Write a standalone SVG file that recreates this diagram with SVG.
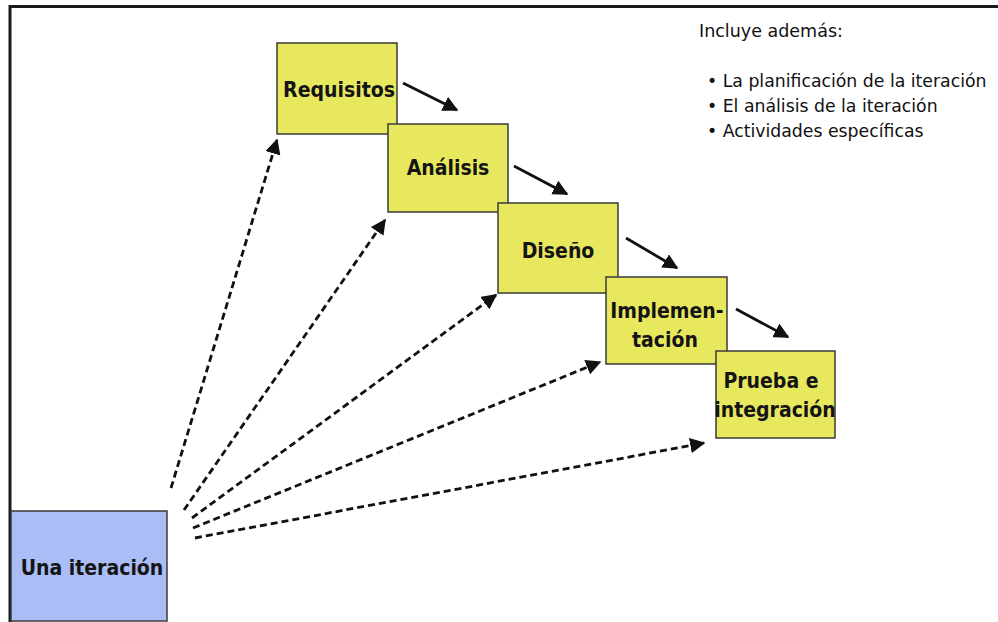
<svg xmlns="http://www.w3.org/2000/svg" width="998" height="622" viewBox="0 0 998 622">
<style>
.frame{stroke:#1a1a1a;stroke-width:3;fill:none}
.box{fill:#e8e85f;stroke:#3a3a3a;stroke-width:1.5}
.blue{fill:#aabdf6;stroke:#3a3a3a;stroke-width:1.5}
.lbl{font-family:"DejaVu Sans Condensed","DejaVu Sans",sans-serif;font-weight:bold;font-size:21px;fill:#141414;text-anchor:middle}
.note{font-family:"DejaVu Sans",sans-serif;font-size:17.3px;fill:#111}
.solid{stroke:#111;stroke-width:2.8;fill:none}
.dash{stroke:#111;stroke-width:2.8;fill:none;stroke-dasharray:7 4}
</style>
<defs>
<marker id="ah" viewBox="0 0 10 10" refX="9" refY="5" markerWidth="5.5" markerHeight="5.5" orient="auto" markerUnits="strokeWidth">
<path d="M0,0 L10,5 L0,10 Z" fill="#111"/>
</marker>
</defs>
<rect width="998" height="622" fill="#ffffff"/>
<path class="frame" d="M10,622 L10,6.5 L998,6.5"/>

<g id="connectors">
<line class="solid" x1="403" y1="83" x2="457" y2="110" marker-end="url(#ah)"/>
<line class="solid" x1="514" y1="166" x2="567" y2="194" marker-end="url(#ah)"/>
<line class="solid" x1="626" y1="238" x2="677" y2="268" marker-end="url(#ah)"/>
<line class="solid" x1="736" y1="309" x2="788" y2="337" marker-end="url(#ah)"/>
<line class="dash" x1="171" y1="488" x2="277" y2="140" marker-end="url(#ah)"/>
<line class="dash" x1="184" y1="510" x2="385" y2="220" marker-end="url(#ah)"/>
<line class="dash" x1="192" y1="518" x2="496" y2="295" marker-end="url(#ah)"/>
<line class="dash" x1="193" y1="528" x2="600" y2="362" marker-end="url(#ah)"/>
<line class="dash" x1="195" y1="538" x2="704" y2="443" marker-end="url(#ah)"/>
</g>

<g id="requisitos">
<rect class="box" x="277" y="43" width="120" height="91"/>
<text class="lbl" x="339" y="97">Requisitos</text>
</g>
<g id="analisis">
<rect class="box" x="388" y="124" width="120" height="88"/>
<text class="lbl" x="448" y="175">Análisis</text>
</g>
<g id="diseno">
<rect class="box" x="498" y="203" width="120" height="90"/>
<text class="lbl" x="558" y="258">Diseño</text>
</g>
<g id="implementacion">
<rect class="box" x="606" y="277" width="121" height="87"/>
<text class="lbl" x="667" y="318">Implemen-</text>
<text class="lbl" x="665" y="347">tación</text>
</g>
<g id="prueba">
<rect class="box" x="716" y="351" width="119" height="87"/>
<text class="lbl" x="771" y="388">Prueba e</text>
<text class="lbl" x="775" y="417">integración</text>
</g>
<g id="iteracion">
<rect class="blue" x="11" y="511" width="156" height="110"/>
<text class="lbl" x="92" y="575">Una iteración</text>
</g>

<g id="notes">
<text class="note" x="699" y="37" style="font-size:17.5px">Incluye además:</text>
<text class="note" x="707" y="87">• La planificación de la iteración</text>
<text class="note" x="707" y="112">• El análisis de la iteración</text>
<text class="note" x="707" y="137">• Actividades específicas</text>
</g>
</svg>
